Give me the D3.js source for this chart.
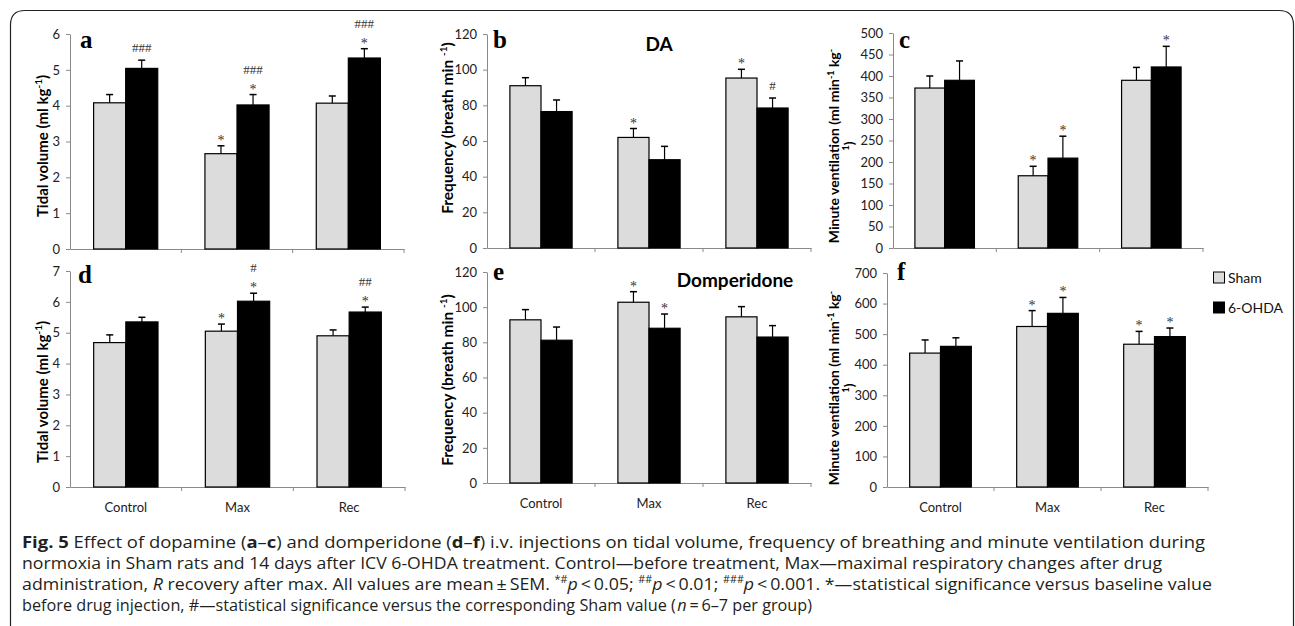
<!DOCTYPE html>
<html><head><meta charset="utf-8">
<script src="https://cdn.jsdelivr.net/npm/d3@7"></script>
<style>body{margin:0;background:#fff}svg{display:block}</style>
</head><body>
<svg id="chart" width="1295" height="626"></svg>
<script>
// ---------- data ----------
const categories = ["Control", "Max", "Rec"];
const seriesNames = ["Sham", "6-OHDA"];

// a: tidal volume, DA
const tvDA_sham = [4.08, 2.66, 4.07];
const tvDA_shamErr = [0.23, 0.22, 0.20];
const tvDA_ohda = [5.04, 4.02, 5.33];
const tvDA_ohdaErr = [0.23, 0.29, 0.26];
// b: frequency, DA
const fDA_sham = [91.0, 62.0, 95.3];
const fDA_shamErr = [4.5, 5.0, 4.9];
const fDA_ohda = [76.5, 49.5, 78.5];
const fDA_ohdaErr = [6.5, 7.5, 5.6];
// c: minute ventilation, DA
const mvDA_sham = [372, 168, 390];
const mvDA_shamErr = [28, 22, 30];
const mvDA_ohda = [390, 209, 421];
const mvDA_ohdaErr = [45, 51, 48];
// d: tidal volume, domperidone
const tvDom_sham = [4.68, 5.05, 4.90];
const tvDom_shamErr = [0.25, 0.23, 0.19];
const tvDom_ohda = [5.35, 6.02, 5.67];
const tvDom_ohdaErr = [0.15, 0.26, 0.16];
// e: frequency, domperidone
const fDom_sham = [92.8, 102.8, 94.5];
const fDom_shamErr = [5.8, 6.0, 5.8];
const fDom_ohda = [81.2, 88.0, 83.0];
const fDom_ohdaErr = [7.5, 8.1, 6.5];
// f: minute ventilation, domperidone
const mvDom_sham = [438, 525, 467];
const mvDom_shamErr = [43, 52, 42];
const mvDom_ohda = [460, 568, 492];
const mvDom_ohdaErr = [28, 52, 28];

// tick values
const ticksTV6 = [0, 1, 2, 3, 4, 5, 6];
const ticksTV7 = [0, 1, 2, 3, 4, 5, 6, 7];
const ticksF = [0, 20, 40, 60, 80, 100, 120];
const ticksMV500 = [0, 50, 100, 150, 200, 250, 300, 350, 400, 450, 500];
const ticksMV700 = [0, 100, 200, 300, 400, 500, 600, 700];

// significance marks: [category, series index, lines top->bottom]
const marksA = [["Control", 1, ["###"]], ["Max", 0, ["*"]], ["Max", 1, ["###", "*"]], ["Rec", 1, ["###", "*"]]];
const marksB = [["Max", 0, ["*"]], ["Rec", 0, ["*"]], ["Rec", 1, ["#"]]];
const marksC = [["Max", 0, ["*"]], ["Max", 1, ["*"]], ["Rec", 1, ["*"]]];
const marksD = [["Max", 0, ["*"]], ["Max", 1, ["#", "*"]], ["Rec", 1, ["##", "*"]]];
const marksE = [["Max", 0, ["*"]], ["Max", 1, ["*"]]];
const marksF = [["Max", 0, ["*"]], ["Max", 1, ["*"]], ["Rec", 0, ["*"]], ["Rec", 1, ["*"]]];

const yTitleTV = ["Tidal volume (ml kg", "-1", ")"];
const yTitleF = ["Frequency (breath min ", "-1", ")"];

// ---------- layout ----------
const panels = [
  {letter: "a", sham: tvDA_sham, shamErr: tvDA_shamErr, ohda: tvDA_ohda, ohdaErr: tvDA_ohdaErr, max: 6, ticks: ticksTV6, marks: marksA,
   x0: 70, x1: 404, yTop: 34, yBot: 249, title: "tv", titleX: 43, titleY: 146, letterX: 80, letterY: 48},
  {letter: "b", sham: fDA_sham, shamErr: fDA_shamErr, ohda: fDA_ohda, ohdaErr: fDA_ohdaErr, max: 120, ticks: ticksF, marks: marksB,
   x0: 487, x1: 811, yTop: 34, yBot: 248, title: "f", titleX: 448, titleY: 128, letterX: 493, letterY: 48, head: "DA", headX: 659, headY: 51},
  {letter: "c", sham: mvDA_sham, shamErr: mvDA_shamErr, ohda: mvDA_ohda, ohdaErr: mvDA_ohdaErr, max: 500, ticks: ticksMV500, marks: marksC,
   x0: 893, x1: 1203, yTop: 33, yBot: 248, title: "mv", titleX: 834, titleY: 146, letterX: 899, letterY: 48},
  {letter: "d", sham: tvDom_sham, shamErr: tvDom_shamErr, ohda: tvDom_ohda, ohdaErr: tvDom_ohdaErr, max: 7, ticks: ticksTV7, marks: marksD,
   x0: 70, x1: 405, yTop: 271, yBot: 487, title: "tv", titleX: 43, titleY: 392, letterX: 78, letterY: 283, cats: true},
  {letter: "e", sham: fDom_sham, shamErr: fDom_shamErr, ohda: fDom_ohda, ohdaErr: fDom_ohdaErr, max: 120, ticks: ticksF, marks: marksE,
   x0: 487, x1: 811, yTop: 272, yBot: 483, title: "f", titleX: 448, titleY: 380, letterX: 493, letterY: 280, cats: true, head: "Domperidone", headX: 735, headY: 287},
  {letter: "f", sham: mvDom_sham, shamErr: mvDom_shamErr, ohda: mvDom_ohda, ohdaErr: mvDom_ohdaErr, max: 700, ticks: ticksMV700, marks: marksF,
   x0: 887, x1: 1208, yTop: 273, yBot: 487, title: "mv", titleX: 834, titleY: 388, letterX: 897, letterY: 280, cats: true}
];

const svg = d3.select("#chart");
const FONT = "Lato, 'Open Sans', sans-serif";
const AXIS = "#8a8a8a";
const SHAM_FILL = "#dcdcdc";

// frame
svg.append("path")
  .attr("d", "M10.5,640 L10.5,25 Q10.5,10.5 25,10.5 L1279,10.5 Q1293.5,10.5 1293.5,25 L1293.5,640")
  .attr("fill", "none").attr("stroke", "#222").attr("stroke-width", 1.2);

panels.forEach(p => {
  const g = svg.append("g");
  const y = d3.scaleLinear().domain([0, p.max]).range([p.yBot, p.yTop]);
  const x = d3.scaleBand().domain(categories).range([p.x0, p.x1]).padding(0);
  const bw = x.bandwidth() * 0.288;
  const barX = (c, i) => x(c) + x.bandwidth() / 2 + (i - 1) * bw;

  // y axis
  const ya = g.append("g").attr("transform", `translate(${p.x0},0)`)
    .call(d3.axisLeft(y).tickValues(p.ticks).tickFormat(d3.format("d")).tickSize(4).tickPadding(6).tickSizeOuter(0));
  ya.select(".domain").attr("stroke", AXIS);
  ya.selectAll(".tick line").attr("stroke", AXIS);
  ya.selectAll(".tick text").attr("font-family", FONT).attr("font-size", 13).attr("fill", "#222");

  // x axis
  const xa = g.append("g").attr("transform", `translate(0,${p.yBot})`)
    .call(d3.axisBottom(x).tickSize(0).tickPadding(16).tickSizeOuter(0));
  xa.select(".domain").attr("stroke", AXIS);
  if (!p.cats) xa.selectAll(".tick text").remove();
  else xa.selectAll(".tick text").attr("font-family", FONT).attr("font-size", 13).attr("fill", "#222");
  // boundary ticks
  g.selectAll("line.bt").data(categories).enter().append("line")
    .attr("x1", c => x(c) + x.bandwidth()).attr("x2", c => x(c) + x.bandwidth())
    .attr("y1", p.yBot).attr("y2", p.yBot + 4).attr("stroke", AXIS);

  const series = [
    {vals: p.sham, errs: p.shamErr, fill: SHAM_FILL},
    {vals: p.ohda, errs: p.ohdaErr, fill: "#000"}
  ];
  series.forEach((s, i) => {
    // error bars
    categories.forEach((c, k) => {
      const cx = barX(c, i) + bw / 2;
      g.append("line").attr("x1", cx).attr("x2", cx)
        .attr("y1", y(s.vals[k])).attr("y2", y(s.vals[k] + s.errs[k]))
        .attr("stroke", "#000").attr("stroke-width", 1.2);
      g.append("line").attr("x1", cx - 3.5).attr("x2", cx + 3.5)
        .attr("y1", y(s.vals[k] + s.errs[k])).attr("y2", y(s.vals[k] + s.errs[k]))
        .attr("stroke", "#000").attr("stroke-width", 1.5);
    });
    g.selectAll(null).data(s.vals).enter().append("rect")
      .attr("x", (v, k) => barX(categories[k], i))
      .attr("y", v => y(v))
      .attr("width", bw)
      .attr("height", v => p.yBot - y(v))
      .attr("fill", s.fill).attr("stroke", "#000").attr("stroke-width", 1.2);
  });

  // significance marks
  p.marks.forEach(([c, i, lines]) => {
    const k = categories.indexOf(c);
    const vals = i === 0 ? p.sham : p.ohda;
    const errs = i === 0 ? p.shamErr : p.ohdaErr;
    const top = y(vals[k] + errs[k]);
    const cx = barX(c, i) + bw / 2;
    const n = lines.length;
    lines.forEach((t, j) => {
      const fromBottom = n - 1 - j;
      const isStar = t === "*";
      const center = top - (isStar ? 8.5 : 12.5) - 13 * fromBottom;
      g.append("text").attr("x", cx).attr("y", center + (isStar ? 7.5 : 4.5))
        .attr("text-anchor", "middle")
        .attr("font-family", "'Liberation Serif', serif").attr("font-size", isStar ? 14 : 13)
        .attr("fill", "#333").text(t);
    });
  });

  // panel letter
  g.append("text").attr("x", p.letterX).attr("y", p.letterY)
    .attr("font-family", "'Liberation Serif', serif").attr("font-weight", "bold")
    .attr("font-size", 25).text(p.letter);

  // heading
  if (p.head) {
    g.append("text").attr("x", p.headX).attr("y", p.headY).attr("text-anchor", "middle")
      .attr("font-family", FONT).attr("font-weight", "bold").attr("font-size", 19).text(p.head);
  }

  // y title
  const cy = p.titleY;
  if (p.title === "mv") {
    const t1 = g.append("text").attr("transform", `translate(${p.titleX},${cy}) rotate(-90)`)
      .attr("text-anchor", "middle").attr("dy", "0.35em")
      .attr("font-family", FONT).attr("font-weight", "bold").attr("font-size", 14);
    t1.append("tspan").text("Minute ventilation (ml min");
    t1.append("tspan").attr("baseline-shift", "super").attr("font-size", 9).text("-1");
    t1.append("tspan").text(" kg");
    t1.append("tspan").attr("baseline-shift", "super").attr("font-size", 9).text("-");
    const t2 = g.append("text").attr("transform", `translate(${p.titleX + 15},${cy}) rotate(-90)`)
      .attr("text-anchor", "middle").attr("dy", "0.35em")
      .attr("font-family", FONT).attr("font-weight", "bold").attr("font-size", 14);
    t2.append("tspan").attr("baseline-shift", "super").attr("font-size", 9).text("1");
    t2.append("tspan").text(")");
  } else {
    const parts = p.title === "tv" ? yTitleTV : yTitleF;
    const t = g.append("text").attr("transform", `translate(${p.titleX},${cy}) rotate(-90)`)
      .attr("text-anchor", "middle").attr("dy", "0.35em")
      .attr("font-family", FONT).attr("font-weight", "bold").attr("font-size", p.title === "tv" ? 15 : 15.5);
    t.append("tspan").text(parts[0]);
    t.append("tspan").attr("baseline-shift", "super").attr("font-size", 10).text(parts[1]);
    t.append("tspan").text(parts[2]);
  }
});

// legend
const legend = svg.append("g");
[["Sham", SHAM_FILL, 278], ["6-OHDA", "#000", 308]].forEach(([name, fill, cy]) => {
  legend.append("rect").attr("x", 1213.5).attr("y", cy - 6).attr("width", 11).attr("height", 11)
    .attr("fill", fill).attr("stroke", "#000").attr("stroke-width", 1);
  legend.append("text").attr("x", 1228).attr("y", cy + 5).attr("font-family", FONT).attr("font-size", 14)
    .attr("fill", "#111").text(name);
});

// caption
const capLines = [
  {y: 548, len: 1183, parts: [["Fig. 5", "b"], ["  Effect of dopamine ("], ["a", "b"], ["–"], ["c", "b"], [") and domperidone ("], ["d", "b"], ["–"], ["f", "b"], [") i.v. injections on tidal volume, frequency of breathing and minute ventilation during"]]},
  {y: 569, len: 1140, parts: [["normoxia in Sham rats and 14 days after ICV 6-OHDA treatment. Control—before treatment, Max—maximal respiratory changes after drug"]]},
  {y: 590, len: 1190, parts: [["administration, "], ["R", "i"], [" recovery after max. All values are mean\u2009±\u2009SEM. "], ["*#", "s"], ["p", "i"], ["\u2009<\u20090.05; "], ["##", "s"], ["p", "i"], ["\u2009<\u20090.01; "], ["###", "s"], ["p", "i"], ["\u2009<\u20090.001. *—statistical significance versus baseline value"]]},
  {y: 611, len: 790, parts: [["before drug injection, #—statistical significance versus the corresponding Sham value (\u200A"], ["n", "i"], ["\u2009=\u20096–7 per group)"]]}
];
capLines.forEach(l => {
  const t = svg.append("text").attr("x", 22).attr("y", l.y)
    .attr("font-family", "'Open Sans', sans-serif").attr("font-size", 16.5).attr("fill", "#231f20")
    .attr("textLength", l.len).attr("lengthAdjust", "spacingAndGlyphs");
  l.parts.forEach(([txt, st]) => {
    const s = t.append("tspan").text(txt);
    if (st === "b") s.attr("font-weight", "bold");
    if (st === "i") s.attr("font-style", "italic");
    if (st === "s") s.attr("font-size", 10).attr("baseline-shift", "super");
  });
});
</script>
</body></html>
